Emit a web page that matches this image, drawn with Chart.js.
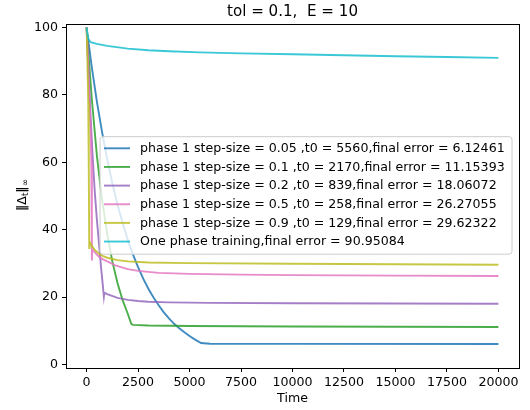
<!DOCTYPE html>
<html>
<head>
<meta charset="utf-8">
<script src="https://cdn.jsdelivr.net/npm/chart.js@4.4.1/dist/chart.umd.min.js"></script>
<style>
  body { margin: 0; background: #fff; }
</style>
</head>
<body>
<canvas id="grafico" width="530" height="410"></canvas>
<script>
// valores (tempo, erro)
const blueT = [0, 250, 500, 750, 1000, 1250, 1500, 1750, 2000, 2250, 2500, 2750, 3000, 3250, 3500, 3750, 4000, 4250, 4500, 4750, 5000, 5250, 5560, 6000, 10000, 20000];
const blueV = [100, 88.3, 78, 69, 61, 53.8, 47.5, 42, 37, 32.7, 28.9, 25.5, 22.5, 19.9, 17.6, 15.5, 13.7, 12.1, 10.8, 9.6, 8.5, 7.5, 6.4, 6.2, 6.16, 6.12461];

const greenT = [0, 250, 500, 750, 1000, 1250, 1500, 1750, 2000, 2170, 2250, 3000, 5000, 10000, 20000];
const greenV = [100, 79, 62, 49, 38.8, 30.6, 24.2, 19.1, 15.1, 12.1, 11.8, 11.6, 11.45, 11.3, 11.15393];

const purpleT = [0, 100, 200, 300, 400, 500, 600, 700, 780, 839, 860, 1000, 1500, 2000, 2500, 3000, 4000, 6000, 10000, 15000, 20000];
const purpleV = [100, 86, 73, 61, 51, 43, 36, 29, 24, 20.2, 21.3, 20.9, 19.8, 19.2, 18.85, 18.65, 18.45, 18.3, 18.2, 18.12, 18.06072];

const pinkT = [0, 50, 100, 150, 200, 230, 258, 270, 400, 600, 800, 1000, 1400, 2000, 2500, 3500, 5000, 7500, 10000, 15000, 20000];
const pinkV = [100, 93, 85, 77, 69, 60, 30.9, 34.3, 33.3, 32, 31.2, 30.6, 29.4, 28.3, 27.8, 27.2, 26.9, 26.7, 26.55, 26.4, 26.27055];

const oliveT = [0, 40, 80, 100, 115, 129, 140, 250, 400, 600, 800, 1000, 1500, 2000, 3000, 5000, 10000, 15000, 20000];
const oliveV = [100, 90, 78, 68, 57, 34.6, 36.5, 35.2, 34, 32.9, 32.2, 31.7, 31, 30.6, 30.3, 30.1, 29.9, 29.75, 29.62322];

const cyanT = [0, 40, 90, 200, 500, 1000, 2000, 3000, 4000, 5500, 7500, 10000, 12500, 15000, 17500, 20000];
const cyanV = [100, 98, 96.5, 95.6, 95.1, 94.5, 93.7, 93.2, 92.9, 92.6, 92.3, 92.05, 91.75, 91.45, 91.2, 90.95084];

const rotulos = [
  "phase 1 step-size = 0.05 ,t0 = 5560,final error = 6.12461",
  "phase 1 step-size = 0.1 ,t0 = 2170,final error = 11.15393",
  "phase 1 step-size = 0.2 ,t0 = 839,final error = 18.06072",
  "phase 1 step-size = 0.5 ,t0 = 258,final error = 26.27055",
  "phase 1 step-size = 0.9 ,t0 = 129,final error = 29.62322",
  "One phase training,final error = 90.95084"
];
const cores = ["rgba(31,119,180,0.85)", "rgba(44,160,44,0.85)", "rgba(148,103,189,0.85)",
               "rgba(227,119,194,0.85)", "rgba(188,189,34,0.85)", "rgba(23,190,207,0.85)"];

const xTicks = [0, 2500, 5000, 7500, 10000, 12500, 15000, 17500, 20000];
const yTicks = [0, 20, 40, 60, 80, 100];

const FONTE = "'DejaVu Sans', sans-serif";

const series = [[blueT, blueV], [greenT, greenV], [purpleT, purpleV], [pinkT, pinkV], [oliveT, oliveV], [cyanT, cyanV]];

const datasets = series.map((s, i) => ({
  label: rotulos[i],
  data: s[0].map((t, k) => ({ x: t, y: s[1][k] })),
  borderColor: cores[i],
  borderWidth: 1.9,
  pointRadius: 0,
  tension: 0,
  fill: false,
  order: series.length - 1 - i
}));

// titulo, moldura, rotulo y e legenda dentro do grafico
const extras = {
  id: "extras",
  afterDatasetsDraw(chart) {
    const ctx = chart.ctx;
    const a = chart.chartArea;
    ctx.save();
    ctx.strokeStyle = "#000";
    ctx.lineWidth = 1;
    ctx.strokeRect(Math.round(a.left) + 0.5, Math.round(a.top) + 0.5, Math.round(a.right - a.left), Math.round(a.bottom - a.top));
    ctx.restore();
  },
  afterDraw(chart) {
    const ctx = chart.ctx;
    const a = chart.chartArea;
    const cx = (a.left + a.right) / 2;
    ctx.save();
    ctx.fillStyle = "#000";

    // titulo
    ctx.font = "15.1px " + FONTE;
    ctx.textAlign = "center";
    ctx.textBaseline = "middle";
    ctx.fillText("tol = 0.1,  E = 10", cx, 12);

    // eixo x
    ctx.font = "12.6px " + FONTE;
    ctx.fillText("Time", cx, 399);

    // eixo y: ||Δ_t||_∞
    ctx.save();
    ctx.translate(21, 195);
    ctx.rotate(-Math.PI / 2);
    ctx.textAlign = "left";
    ctx.textBaseline = "alphabetic";
    const partes = [["‖Δ", 12.6, 0], ["t", 8.8, 2.5], ["‖", 12.6, 0], ["∞", 8.8, 2.5]];
    let w = 0;
    partes.forEach(p => { ctx.font = p[1] + "px " + FONTE; w += ctx.measureText(p[0]).width; });
    let x = -w / 2;
    partes.forEach(p => {
      ctx.font = p[1] + "px " + FONTE;
      ctx.fillText(p[0], x, 4.5 + p[2]);
      x += ctx.measureText(p[0]).width;
    });
    ctx.restore();

    // legenda
    const lx = 100, ly = 136.7, lw = 412, lh = 117.5, r = 3;
    ctx.beginPath();
    ctx.moveTo(lx + r, ly);
    ctx.arcTo(lx + lw, ly, lx + lw, ly + lh, r);
    ctx.arcTo(lx + lw, ly + lh, lx, ly + lh, r);
    ctx.arcTo(lx, ly + lh, lx, ly, r);
    ctx.arcTo(lx, ly, lx + lw, ly, r);
    ctx.closePath();
    ctx.fillStyle = "rgba(255,255,255,0.8)";
    ctx.fill();
    ctx.strokeStyle = "#cccccc";
    ctx.lineWidth = 1;
    ctx.stroke();

    ctx.font = "12.6px " + FONTE;
    ctx.textAlign = "left";
    ctx.textBaseline = "middle";
    chart.data.datasets.forEach((d, i) => {
      const y = 148.3 + i * 18.65;
      ctx.strokeStyle = d.borderColor;
      ctx.lineWidth = 1.9;
      ctx.beginPath();
      ctx.moveTo(104, y);
      ctx.lineTo(130, y);
      ctx.stroke();
      ctx.fillStyle = "#000";
      ctx.fillText(d.label, 140, y + 0.5);
    });
    ctx.restore();
  }
};

new Chart(document.getElementById("grafico"), {
  type: "line",
  data: { datasets: datasets },
  options: {
    responsive: false,
    animation: false,
    devicePixelRatio: 1,
    layout: { padding: { left: 0, right: 11, top: 24, bottom: 0 } },
    plugins: {
      legend: { display: false },
      title: { display: false },
      tooltip: { enabled: false }
    },
    scales: {
      x: {
        type: "linear",
        min: -1000,
        max: 21000,
        afterBuildTicks: s => { s.ticks = xTicks.map(v => ({ value: v })); },
        afterFit: s => { s.height = 42; },
        ticks: {
          color: "#000",
          font: { family: FONTE, size: 12.6 },
          padding: 3,
          maxRotation: 0,
          autoSkip: false,
          callback: v => String(v)
        },
        grid: { display: true, drawOnChartArea: false, drawTicks: true, tickLength: 4, color: "#000", lineWidth: 1 },
        border: { display: true, color: "#000", width: 1 }
      },
      y: {
        type: "linear",
        min: -1,
        max: 101,
        afterBuildTicks: s => { s.ticks = yTicks.map(v => ({ value: v })); },
        afterFit: s => { s.width = 66; },
        ticks: {
          color: "#000",
          font: { family: FONTE, size: 12.6 },
          padding: 4,
          autoSkip: false,
          callback: v => String(v)
        },
        grid: { display: true, drawOnChartArea: false, drawTicks: true, tickLength: 4, color: "#000", lineWidth: 1 },
        border: { display: true, color: "#000", width: 1 }
      }
    }
  },
  plugins: [extras]
});
</script>
</body>
</html>
